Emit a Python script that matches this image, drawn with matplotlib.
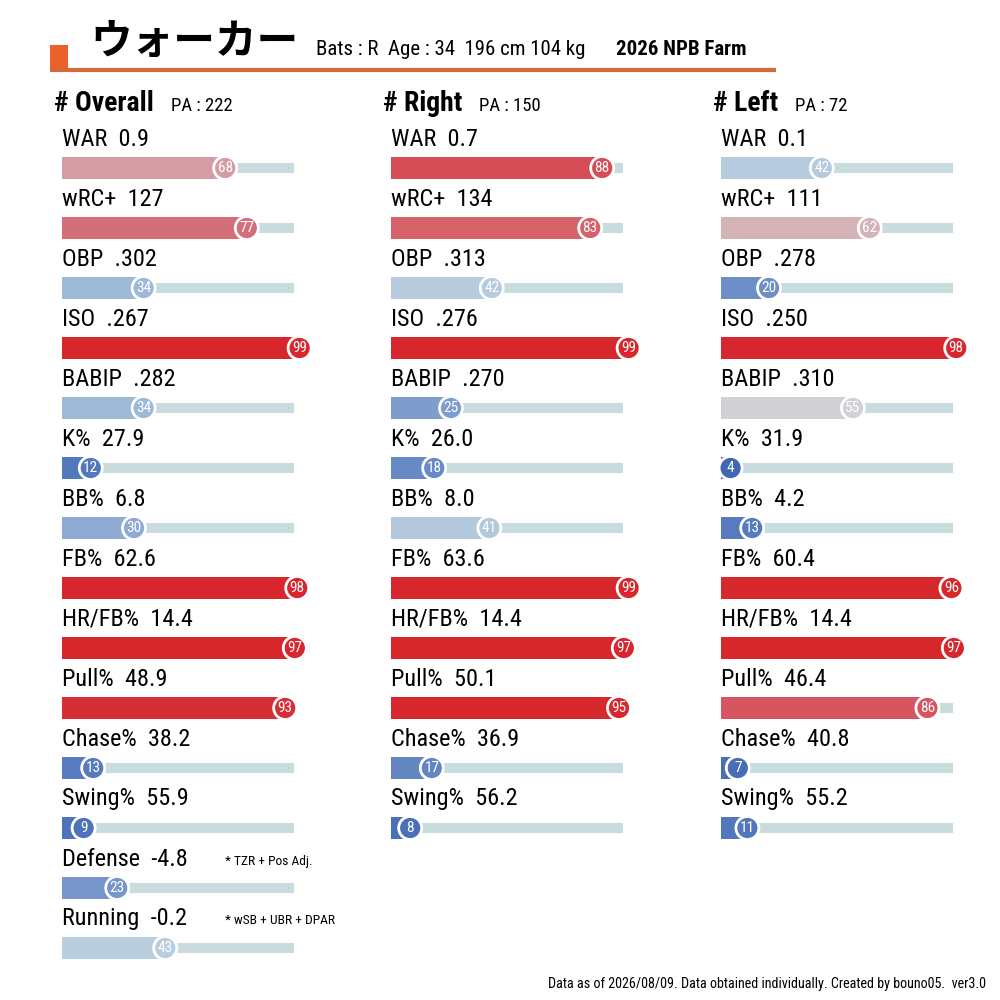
import matplotlib
matplotlib.use("Agg")
import matplotlib.pyplot as plt
from matplotlib import font_manager
from matplotlib.colors import LinearSegmentedColormap
from matplotlib.patches import Circle, Rectangle

names = {f.name for f in font_manager.fontManager.ttflist}
BASE = "Roboto Condensed" if "Roboto Condensed" in names else "Roboto"
plt.rcParams["font.family"] = [BASE, "Noto Sans CJK JP", "DejaVu Sans"]

# ---- data
player = "ウォーカー"
profile = "Bats : R  Age : 34  196 cm 104 kg"
season = "2026 NPB Farm"

metrics = ["WAR", "wRC+", "OBP", "ISO", "BABIP", "K%", "BB%", "FB%",
           "HR/FB%", "Pull%", "Chase%", "Swing%", "Defense", "Running"]

ovr_pa = 222
ovr_val = ["0.9", "127", ".302", ".267", ".282", "27.9", "6.8", "62.6",
           "14.4", "48.9", "38.2", "55.9", "-4.8", "-0.2"]
ovr_pct = [68, 77, 34, 99, 34, 12, 30, 98, 97, 93, 13, 9, 23, 43]

rhp_pa = 150
rhp_val = ["0.7", "134", ".313", ".276", ".270", "26.0", "8.0", "63.6",
           "14.4", "50.1", "36.9", "56.2"]
rhp_pct = [88, 83, 42, 99, 25, 18, 41, 99, 97, 95, 17, 8]

lhp_pa = 72
lhp_val = ["0.1", "111", ".278", ".250", ".310", "31.9", "4.2", "60.4",
           "14.4", "46.4", "40.8", "55.2"]
lhp_pct = [42, 62, 20, 98, 55, 4, 13, 96, 97, 86, 7, 11]

notes = {"Defense": "* TZR + Pos Adj.", "Running": "* wSB + UBR + DPAR"}
footer = "Data as of 2026/08/09. Data obtained individually. Created by bouno05.  ver3.0"

# ---- style
cmap = LinearSegmentedColormap.from_list("pct", [
    (0.00, "#3a60b0"), (0.12, "#5479bd"), (0.22, "#7393ca"),
    (0.33, "#9bb5d6"), (0.43, "#b9cedf"), (0.55, "#d1d1d5"),
    (0.62, "#d6b3b7"), (0.68, "#d49ea4"), (0.77, "#d3707a"),
    (0.85, "#d55c64"), (0.89, "#d64a52"), (0.94, "#d7292f"),
    (1.00, "#d7252c")])
TRACK = "#c9dcdd"
ORANGE = "#e8622a"
SCALE = 2.4          # px per percentile point
TRACK_END = 96.7

fig = plt.figure(figsize=(10, 10), dpi=100)
ax = fig.add_axes([0, 0, 1, 1])
ax.set_xlim(0, 1000)
ax.set_ylim(1000, 0)
ax.axis("off")

# header
ax.add_patch(Rectangle((50, 45), 18, 26, color=ORANGE, lw=0))
ax.plot([50, 776], [70, 70], color="#d4693c", lw=3, solid_capstyle="butt")
ax.text(90, 54, player, fontsize=30, family=["Noto Sans CJK JP", "DejaVu Sans"],
        fontweight="bold", va="baseline")
ax.text(316, 55, profile, fontsize=15, va="baseline")
ax.text(616, 55, season, fontsize=15, fontweight="bold", va="baseline")


def column(x0, title, pa, vals, pcts):
    t = ax.text(x0 - 8, 111, f"# {title}", fontsize=20, fontweight="bold",
                va="baseline")
    fig.canvas.draw()
    bb = t.get_window_extent()
    ax.text(bb.x1 + 17, 111, f"PA : {pa}", fontsize=13.5, va="baseline")
    for i, (m, v, p) in enumerate(zip(metrics, vals, pcts)):
        ly = 139 + 60 * i
        by = 168 + 60 * i
        ax.text(x0, ly, f"{m}  {v}", fontsize=17.5, va="center")
        if m in notes:
            ax.text(225, ly + 2, notes[m], fontsize=9.7, va="center")
        ax.add_patch(Rectangle((x0, by - 5), TRACK_END * SCALE, 10,
                               color=TRACK, lw=0, zorder=1))
        c = cmap(p / 100)
        cx = x0 + p * SCALE
        ax.add_patch(Rectangle((x0, by - 11), cx - x0, 22, color=c, lw=0,
                               zorder=2))
        ax.add_patch(Circle((cx, by), 11.5, facecolor=c, edgecolor="white",
                            lw=2, zorder=3))
        ax.text(cx, by, str(p), fontsize=11, color="white", ha="center",
                va="center", zorder=4)


column(62, "Overall", ovr_pa, ovr_val, ovr_pct)
column(391, "Right", rhp_pa, rhp_val, rhp_pct)
column(721, "Left", lhp_pa, lhp_val, lhp_pct)

ax.text(986, 984, footer, fontsize=10.2, ha="right", va="center")

fig.savefig("out.png", dpi=100, facecolor="white")
